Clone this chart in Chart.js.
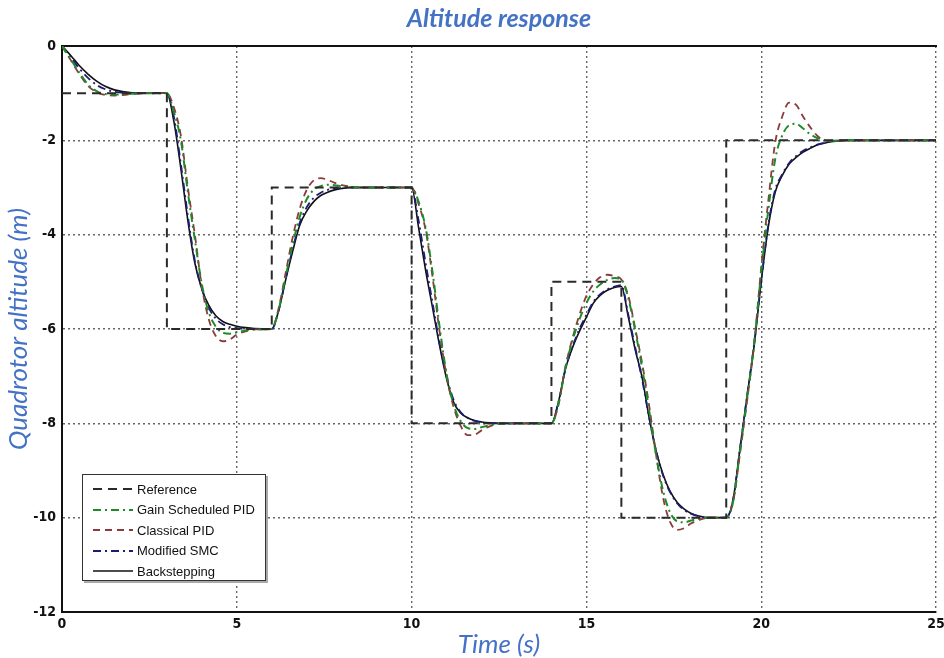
<!DOCTYPE html>
<html>
<head>
<meta charset="utf-8">
<script src="https://cdn.jsdelivr.net/npm/chart.js@4.4.0/dist/chart.umd.min.js"></script>
<style>
  html, body { margin: 0; padding: 0; background: #fff; }
  #wrap { position: relative; width: 944px; height: 658px; }
  #legend {
    position: absolute; left: 82px; top: 474px; width: 184px; height: 107px;
    border: 1.5px solid #333; box-shadow: 2px 2px 0 #aaa; background: #fff;
    font-family: 'Liberation Sans', Arial, sans-serif; font-size: 13px; color: #111;
    box-sizing: border-box; padding-top: 4px;
  }
  #legend .row { display: flex; align-items: center; height: 20.5px; }
  #legend svg { margin-left: 10px; margin-right: 4px; }
</style>
</head>
<body>
<div id="wrap">
  <canvas id="chart" width="944" height="658"></canvas>
  <div id="legend"></div>
</div>
<script>
// reference (step) signal
var refTime = [0, 3, 6, 10, 14, 16, 19, 25];
var refAlt = [-1, -6, -3, -8, -5, -10, -2, -2];

// common time samples for the controller responses
var respTime = [0, 0.25, 0.5, 0.75, 1, 1.25, 1.5, 2, 2.5, 3,
  3.2, 3.4, 3.6, 3.8, 4, 4.2, 4.4, 4.6, 4.8, 5, 5.25, 5.5, 6,
  6.2, 6.4, 6.6, 6.8, 7, 7.2, 7.4, 7.6, 7.8, 8, 8.25, 8.5, 9, 10,
  10.2, 10.4, 10.6, 10.8, 11, 11.2, 11.4, 11.6, 11.8, 12, 12.25, 12.5, 13, 14,
  14.2, 14.4, 14.6, 14.8, 15, 15.2, 15.4, 15.6, 15.8, 16,
  16.2, 16.4, 16.6, 16.8, 17, 17.2, 17.4, 17.6, 17.8, 18, 18.25, 18.5, 19,
  19.2, 19.4, 19.6, 19.8, 20, 20.2, 20.4, 20.6, 20.8, 21, 21.2, 21.4, 21.6, 21.8, 22, 22.5, 23, 25];

var gainPID = [0, -0.28, -0.57, -0.82, -0.96, -1.02, -1.03, -1.01, -1, -1,
  -1.4, -2.0, -3.1, -4.1, -5.05, -5.65, -5.95, -6.08, -6.1, -6.07, -6.03, -6.01, -6,
  -5.58, -4.88, -4.2, -3.62, -3.25, -3.05, -2.97, -2.94, -2.95, -2.97, -2.99, -3, -3, -3,
  -3.3, -3.85, -4.8, -5.95, -6.95, -7.6, -7.95, -8.1, -8.12, -8.08, -8.04, -8.01, -8, -8,
  -7.6, -6.82, -6.25, -5.8, -5.45, -5.2, -5.05, -4.96, -4.92, -4.95,
  -5.35, -6.05, -6.85, -7.75, -8.7, -9.45, -9.9, -10.08, -10.1, -10.06, -10.02, -10, -10,
  -9.65, -8.55, -7.45, -6.3, -4.8, -3.5, -2.4, -1.9, -1.68, -1.65, -1.75, -1.87, -1.95, -2.0, -2.01, -2, -2, -2];

var classicPID = [0, -0.3, -0.6, -0.85, -0.98, -1.04, -1.05, -1.02, -1, -1,
  -1.3, -1.9, -3.0, -4.0, -5.1, -5.8, -6.15, -6.26, -6.22, -6.12, -6.05, -6.01, -6,
  -5.55, -4.8, -4.05, -3.45, -3.05, -2.85, -2.8, -2.84, -2.9, -2.95, -2.98, -3, -3, -3,
  -3.35, -3.9, -4.9, -6.05, -7.0, -7.65, -8.05, -8.25, -8.24, -8.15, -8.06, -8.01, -8, -8,
  -7.6, -6.8, -6.2, -5.7, -5.3, -5.05, -4.9, -4.85, -4.88, -4.95,
  -5.3, -6.0, -6.75, -7.65, -8.7, -9.6, -10.1, -10.26, -10.22, -10.12, -10.04, -10, -10,
  -9.65, -8.6, -7.5, -6.3, -4.7, -3.3, -2.05, -1.5, -1.2, -1.25, -1.5, -1.72, -1.9, -2.0, -2.02, -2, -2, -2];

var modSMC = [0, -0.24, -0.48, -0.68, -0.83, -0.92, -0.97, -1, -1, -1,
  -1.5, -2.5, -3.6, -4.55, -5.15, -5.55, -5.78, -5.9, -5.96, -5.98, -6, -6, -6,
  -5.6, -4.92, -4.3, -3.75, -3.42, -3.22, -3.11, -3.05, -3.02, -3.01, -3, -3, -3, -3,
  -3.7, -4.6, -5.45, -6.3, -7.0, -7.5, -7.76, -7.88, -7.95, -7.98, -8, -8, -8, -8,
  -7.55, -6.85, -6.38, -6.0, -5.7, -5.42, -5.26, -5.16, -5.1, -5.07,
  -5.7, -6.4, -7.1, -7.9, -8.6, -9.12, -9.47, -9.7, -9.84, -9.92, -9.98, -10, -10,
  -9.6, -8.5, -7.4, -6.3, -5.0, -3.8, -3.05, -2.72, -2.48, -2.33, -2.22, -2.15, -2.09, -2.05, -2.02, -2, -2, -2];

var backstep = [0, -0.2, -0.42, -0.6, -0.75, -0.86, -0.93, -0.99, -1, -1,
  -1.6, -2.6, -3.7, -4.6, -5.15, -5.5, -5.72, -5.84, -5.9, -5.94, -5.97, -5.99, -6,
  -5.6, -4.95, -4.35, -3.8, -3.5, -3.3, -3.17, -3.1, -3.05, -3.02, -3, -3, -3, -3,
  -3.85, -4.75, -5.55, -6.35, -7.05, -7.55, -7.78, -7.88, -7.94, -7.97, -7.99, -8, -8, -8,
  -7.55, -6.85, -6.4, -6.05, -5.75, -5.45, -5.28, -5.18, -5.12, -5.1,
  -5.75, -6.45, -7.05, -7.9, -8.6, -9.1, -9.45, -9.68, -9.82, -9.91, -9.97, -10, -10,
  -9.6, -8.5, -7.4, -6.35, -5.0, -3.85, -3.1, -2.75, -2.5, -2.36, -2.25, -2.17, -2.1, -2.06, -2.03, -2, -2, -2];

var xTicks = [0, 5, 10, 15, 20, 25];
var yTicks = [0, -2, -4, -6, -8, -10, -12];

function pts(t, v) {
  return t.map(function (x, i) { return { x: x, y: v[i] }; });
}

var titleBlue = '#4472C4';
var tickFont = { family: "'Liberation Sans Narrow', 'DejaVu Sans Condensed', Arial, sans-serif", size: 14, weight: 'bold' };
var labelFont = { family: 'Lato', size: 26, style: 'italic', lineHeight: 1 };

var datasets = [
  { label: 'Reference', data: pts(refTime, refAlt), stepped: 'before',
    borderColor: '#2a2a2a', borderWidth: 2, borderDash: [9, 6] },
  { label: 'Gain Scheduled PID', data: pts(respTime, gainPID), cubicInterpolationMode: 'monotone',
    borderColor: '#1f8a2a', borderWidth: 2, borderDash: [8, 4, 2, 4] },
  { label: 'Classical PID', data: pts(respTime, classicPID), cubicInterpolationMode: 'monotone',
    borderColor: '#8a3c3c', borderWidth: 1.8, borderDash: [7, 5] },
  { label: 'Modified SMC', data: pts(respTime, modSMC), cubicInterpolationMode: 'monotone',
    borderColor: '#1c1c78', borderWidth: 1.8, borderDash: [8, 4, 2, 4] },
  { label: 'Backstepping', data: pts(respTime, backstep), cubicInterpolationMode: 'monotone',
    borderColor: '#111111', borderWidth: 1.6 }
];
datasets.forEach(function (d) {
  d.pointRadius = 0;
  d.fill = false;
  d.backgroundColor = 'transparent';
});

var chart = new Chart(document.getElementById('chart'), {
  type: 'line',
  data: { datasets: datasets },
  options: {
    responsive: false,
    animation: false,
    layout: { padding: { left: 0, right: 8, top: 0, bottom: 0 } },
    plugins: {
      legend: { display: false },
      tooltip: { enabled: false },
      title: {
        display: true,
        text: 'Altitude response',
        fullSize: false,
        color: titleBlue,
        font: { family: 'Lato', size: 25, style: 'italic', lineHeight: 1.2 },
        padding: { top: 4, bottom: 12 }
      }
    },
    scales: {
      x: {
        type: 'linear', min: 0, max: 25,
        afterBuildTicks: function (s) { s.ticks = xTicks.map(function (v) { return { value: v }; }); },
        ticks: { color: '#111', font: tickFont, padding: 4, maxRotation: 0 },
        grid: { color: '#666', lineWidth: 1.4, drawTicks: false },
        border: { display: true, color: '#111', width: 2, dash: [2, 3] },
        title: { display: true, text: 'Time (s)', color: titleBlue, font: labelFont, padding: { top: 0, bottom: 0 } },
        afterFit: function (s) { s.height = 46; s.paddingLeft = 0; s.paddingRight = 0; }
      },
      x2: {
        type: 'linear', position: 'top', min: 0, max: 25,
        ticks: { display: false },
        grid: { display: false, drawTicks: false },
        border: { display: true, color: '#111', width: 2 }
      },
      y: {
        type: 'linear', min: -12, max: 0,
        afterBuildTicks: function (s) { s.ticks = yTicks.map(function (v) { return { value: v }; }); },
        ticks: { color: '#111', font: tickFont, padding: 6 },
        grid: { color: '#666', lineWidth: 1.4, drawTicks: false },
        border: { display: true, color: '#111', width: 2, dash: [2, 3] },
        title: { display: true, text: 'Quadrotor altitude (m)', color: titleBlue, font: labelFont, padding: { top: 6, bottom: 0 } },
        afterFit: function (s) { s.width = 62; }
      }
    }
  }
});

// legend box inside the plot, built from the datasets
var legend = document.getElementById('legend');
chart.data.datasets.forEach(function (d) {
  var row = document.createElement('div');
  row.className = 'row';
  var dash = d.borderDash ? d.borderDash.join(' ') : 'none';
  row.innerHTML = '<svg width="40" height="6"><line x1="0" y1="3" x2="40" y2="3" stroke="' + d.borderColor +
    '" stroke-width="' + d.borderWidth + '" stroke-dasharray="' + dash + '"/></svg><span>' + d.label + '</span>';
  legend.appendChild(row);
});
</script>
</body>
</html>
